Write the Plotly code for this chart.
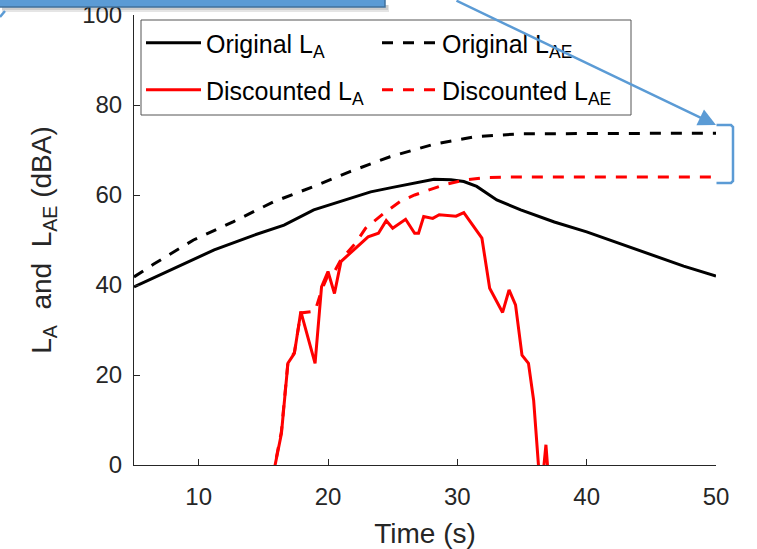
import plotly.graph_objects as go

# ---- data ----
t_orig = [5, 8.1, 11.2, 14.3, 16.6, 18.9, 20.5, 23.3, 25, 26.9, 28.2, 29.5, 30.5, 31.5, 32.3, 33.05, 34.9, 37.5, 40, 42.5, 45, 47.5, 50]
la_orig = [39.6, 43.7, 47.8, 51.1, 53.3, 56.7, 58.1, 60.7, 61.7, 62.7, 63.5, 63.4, 63.0, 61.9, 60.3, 58.9, 56.7, 54.0, 51.8, 49.3, 46.7, 44.2, 42.0]

t_lae_orig = [5, 6.5, 9.6, 12.7, 15.8, 18.9, 21.7, 24.8, 28.2, 31.5, 34.9, 40, 45, 50]
lae_orig = [41.8, 44.6, 50.0, 54.1, 58.5, 61.9, 65.2, 68.5, 71.3, 73.0, 73.6, 73.7, 73.7, 73.7]

t_disc = [15.7, 16.4, 16.9, 17.4, 17.9, 19.0, 19.5, 20.0, 20.5, 21.0, 22.1, 23.1, 23.9, 24.5, 25.0, 26.0, 26.7, 27.0, 27.4,
          28.1, 28.6, 29.9, 30.5, 31.9, 32.5, 33.5, 34.0, 34.5, 35.0, 35.5, 35.9, 36.35, 36.6, 36.85, 37.05]
la_disc = [-3, 7.0, 22.6, 24.8, 34.1, 22.6, 39.6, 43.0, 38.1, 45.2, 48.1, 50.7, 51.5, 54.3, 52.6, 54.6, 51.5, 51.5, 55.2,
           54.8, 55.6, 55.3, 56.1, 50.4, 39.3, 33.9, 38.9, 35.6, 24.4, 22.6, 14.4, -3, -3, 4.5, -3]

t_lae_disc = [15.7, 16.4, 16.9, 17.4, 17.9, 19.0, 19.5, 20.0, 20.5, 21.0, 22.1, 22.9, 24.3, 25.6, 26.7, 27.9, 29.0, 30.5, 31.5, 32.3, 34, 50]
lae_disc = [-3, 7.5, 22.8, 25.0, 33.8, 34.2, 38.8, 42.2, 43.0, 45.6, 49.2, 52.6, 55.9, 58.6, 60.0, 61.2, 62.3, 63.3, 63.7, 63.9, 64.0, 64.0]

x_ticks = [10, 20, 30, 40, 50]
y_ticks = [0, 20, 40, 60, 80, 100]

# ---- layout geometry (reference pixels) ----
W, H = 757, 549
L, R, T, B = 134, 716, 15, 465          # plot area in reference pixels
BLUE = "#5B9BD5"
FONT = "Liberation Sans, Arial, Helvetica, sans-serif"
AX = "#262626"
DASH = "11px,10px"


def px(x):
    return (x - L) / (R - L)


def py(y):
    return (B - y) / (B - T)


fig = go.Figure()
fig.add_trace(go.Scatter(x=t_orig, y=la_orig, mode="lines", name="Original L<sub>A</sub>",
                         line=dict(color="black", width=3), legend="legend"))
fig.add_trace(go.Scatter(x=t_lae_orig, y=lae_orig, mode="lines", name="Original L<sub>AE</sub>",
                         line=dict(color="black", width=3, dash=DASH), legend="legend"))
fig.add_trace(go.Scatter(x=t_disc, y=la_disc, mode="lines", name="Discounted L<sub>A</sub>",
                         line=dict(color="#FF0000", width=3), legend="legend2"))
fig.add_trace(go.Scatter(x=t_lae_disc, y=lae_disc, mode="lines", name="Discounted L<sub>AE</sub>",
                         line=dict(color="#FF0000", width=3, dash=DASH), legend="legend2"))

shapes = [
    # legend frame
    dict(type="rect", xref="paper", yref="paper", x0=px(141), x1=px(631), y0=py(115), y1=py(20),
         fillcolor="white", line=dict(color="#555555", width=1), layer="above"),
    # top-left text box (cut off) with soft shadow
    dict(type="rect", xref="paper", yref="paper", x0=px(2), x1=px(389), y0=py(12), y1=py(5),
         fillcolor="rgba(0,0,0,0.10)", line=dict(width=0), layer="above"),
    dict(type="rect", xref="paper", yref="paper", x0=px(2), x1=px(388), y0=py(10), y1=py(5),
         fillcolor="rgba(0,0,0,0.10)", line=dict(width=0), layer="above"),
    dict(type="rect", xref="paper", yref="paper", x0=px(-5), x1=px(385), y0=py(7), y1=py(-10),
         fillcolor=BLUE, line=dict(color="#41719C", width=1.5), layer="above"),
    dict(type="line", xref="paper", yref="paper", x0=px(0), y0=py(17), x1=px(5), y1=py(11),
         line=dict(color=BLUE, width=2.5)),
    # bracket on right
    dict(type="path", xref="paper", yref="paper",
         path=f"M{px(716.5)},{py(125)} L{px(731)},{py(125)} L{px(733)},{py(127)} L{px(733)},{py(181)} "
              f"L{px(731)},{py(183)} L{px(716.5)},{py(183)}",
         line=dict(color=BLUE, width=2.5)),
]

annotations = [
    dict(x=px(716), y=py(125), xref="paper", yref="paper", text="", showarrow=True,
         ax=455 - 716, ay=0 - 125, arrowhead=2, arrowsize=1.4, arrowwidth=2.5, arrowcolor=BLUE),
]

leg_common = dict(xanchor="left", yanchor="middle", orientation="h",
                  entrywidth=166, entrywidthmode="pixels", bgcolor="rgba(0,0,0,0)",
                  borderwidth=0, itemwidth=55,
                  font=dict(family=FONT, size=25, color="black"))

fig.update_layout(
    template="none",
    width=W, height=H,
    margin=dict(l=L, r=W - R, t=T, b=H - B),
    paper_bgcolor="white", plot_bgcolor="white",
    font=dict(family=FONT, size=24, color=AX),
    showlegend=True,
    legend=dict(x=px(141), y=py(43), **leg_common),
    legend2=dict(x=px(141), y=py(90), **leg_common),
    xaxis=dict(range=[5, 50], tickvals=x_ticks, ticks="inside", ticklen=6, tickcolor=AX,
               showline=True, linecolor=AX, linewidth=1, showgrid=False, zeroline=False,
               automargin=False, ticklabelstandoff=10, ticklabeloverflow="allow",
               tickfont=dict(size=24, color=AX),
               title=dict(text="Time (s)", font=dict(size=28, color=AX), standoff=17)),
    yaxis=dict(range=[0, 100], tickvals=y_ticks, ticks="inside", ticklen=6, tickcolor=AX,
               showline=True, linecolor=AX, linewidth=1, showgrid=False, zeroline=False,
               automargin=False, ticklabelstandoff=6, ticklabeloverflow="allow",
               tickfont=dict(size=24, color=AX),
               title=dict(text="L<sub>A</sub>&nbsp; and &nbsp;L<sub>AE</sub> (dBA)",
                          font=dict(size=28, color=AX), standoff=22)),
    shapes=shapes,
    annotations=annotations,
)

fig.write_html("out.html", config={"displayModeBar": False},
               post_script="document.body.style.margin='0';")
